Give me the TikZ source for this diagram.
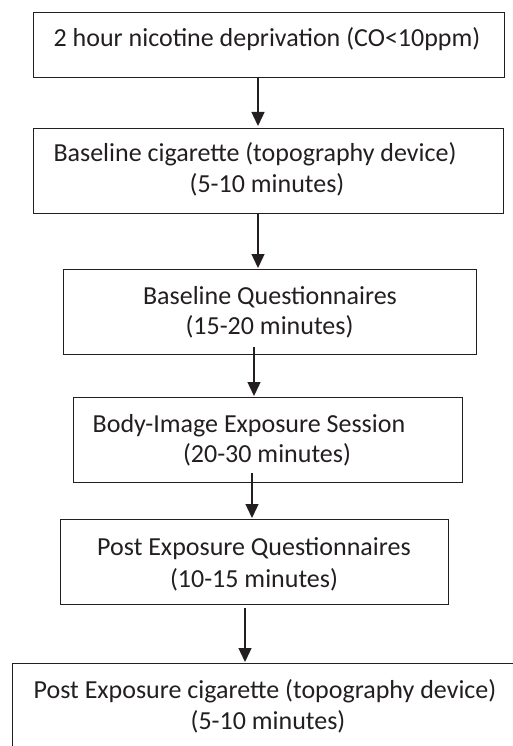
\documentclass[tikz,border=0pt]{standalone}
\usepackage{fontspec}
\setmainfont{Carlito}
\usetikzlibrary{arrows.meta}
\definecolor{ink}{HTML}{231F20}
\begin{document}
\begin{tikzpicture}[x=1pt,y=-1pt,
  boxnode/.style={draw=ink,line width=1.4pt,minimum width=#1,inner sep=0pt,anchor=north west},
  txt/.style={text=ink,font=\fontsize{26}{31}\selectfont,anchor=base,inner sep=0pt},
  flow/.style={draw=ink,line width=1.4pt,-{Triangle[width=13pt,length=14pt]}}]
\useasboundingbox (0,0) rectangle (513,746);
\clip (0,0) rectangle (513,746);
% boxes
\node[boxnode=471pt,minimum height=65pt] (b1) at (33,12) {};
\node[boxnode=470pt,minimum height=85pt] (b2) at (33,128) {};
\node[boxnode=413pt,minimum height=85pt] (b3) at (63,269) {};
\node[boxnode=389pt,minimum height=85pt] (b4) at (73,397) {};
\node[boxnode=388pt,minimum height=85pt] (b5) at (60,519) {};
\node[boxnode=530pt,minimum height=120pt] (b6) at (12,663) {};
% texts
\node[txt] (t1) at (267,47) {2 hour nicotine deprivation (CO<10ppm)};
\node[txt] (t2a) at (255,162) {Baseline cigarette (topography device)};
\node[txt] (t2b) at (267,192) {(5-10 minutes)};
\node[txt] (t3a) at (270,304) {Baseline Questionnaires};
\node[txt] (t3b) at (269.5,334) {(15-20 minutes)};
\node[txt] (t4a) at (249,432) {Body-Image Exposure Session};
\node[txt] (t4b) at (267,462) {(20-30 minutes)};
\node[txt] (t5a) at (254,555) {Post Exposure Questionnaires};
\node[txt] (t5b) at (254,587) {(10-15 minutes)};
\node[txt] (t6a) at (265,698) {Post Exposure cigarette (topography device)};
\node[txt] (t6b) at (268,729) {(5-10 minutes)};
% arrows
\coordinate (a1s) at (258,77);  \coordinate (a1e) at (258,126);
\coordinate (a2s) at (258,213); \coordinate (a2e) at (258,268);
\coordinate (a3s) at (254,347); \coordinate (a3e) at (254,396);
\coordinate (a4s) at (252,473); \coordinate (a4e) at (252,518);
\coordinate (a5s) at (245,608); \coordinate (a5e) at (245,662);
\draw[flow] (a1s) -- (a1e);
\draw[flow] (a2s) -- (a2e);
\draw[flow] (a3s) -- (a3e);
\draw[flow] (a4s) -- (a4e);
\draw[flow] (a5s) -- (a5e);
\end{tikzpicture}
\end{document}
